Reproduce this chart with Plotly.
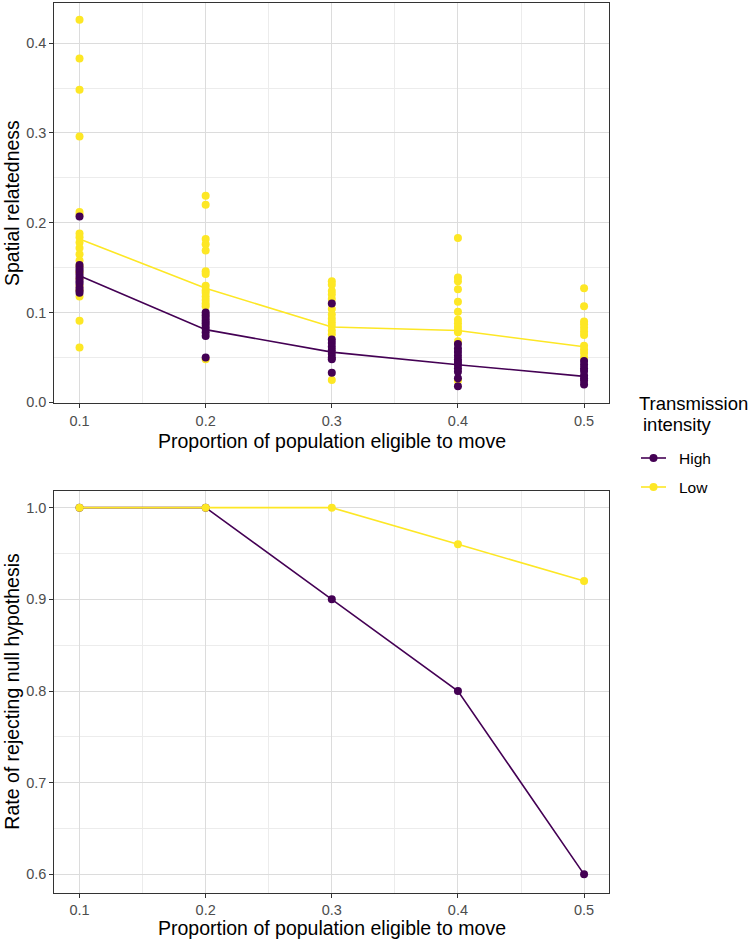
import plotly.graph_objects as go

# ---------------- data ----------------
props = [0.1, 0.2, 0.3, 0.4, 0.5]

# Spatial relatedness, individual simulations (Low transmission)
low_01 = [0.426, 0.383, 0.348, 0.296, 0.212, 0.209, 0.188, 0.184, 0.178, 0.172,
          0.165, 0.158, 0.152, 0.145, 0.138, 0.130, 0.125, 0.118, 0.091, 0.061]
low_02 = [0.230, 0.220, 0.182, 0.176, 0.169, 0.146, 0.143, 0.130, 0.125, 0.122,
          0.118, 0.114, 0.110, 0.107, 0.048]
low_03 = [0.135, 0.131, 0.124, 0.120, 0.115, 0.104, 0.098, 0.093, 0.089, 0.085,
          0.080, 0.076, 0.025]
low_04 = [0.183, 0.139, 0.135, 0.126, 0.112, 0.101, 0.092, 0.088, 0.084, 0.080,
          0.078, 0.068, 0.024]
low_05 = [0.127, 0.107, 0.090, 0.087, 0.083, 0.079, 0.075, 0.063, 0.059, 0.055,
          0.050]

# Spatial relatedness, individual simulations (High transmission)
high_01 = [0.207, 0.153, 0.150, 0.147, 0.144, 0.141, 0.138, 0.135, 0.132, 0.128,
           0.125, 0.122]
high_02 = [0.100, 0.097, 0.094, 0.091, 0.088, 0.085, 0.082, 0.078, 0.074, 0.050]
high_03 = [0.110, 0.070, 0.066, 0.062, 0.058, 0.054, 0.050, 0.048, 0.033]
high_04 = [0.065, 0.060, 0.056, 0.052, 0.048, 0.045, 0.042, 0.038, 0.034, 0.027,
           0.018]
high_05 = [0.046, 0.042, 0.038, 0.035, 0.030, 0.027, 0.024, 0.020]

# mean spatial relatedness
low_mean = [0.182, 0.127, 0.084, 0.080, 0.062]
high_mean = [0.141, 0.081, 0.056, 0.042, 0.029]

# rate of rejecting null hypothesis
high_reject = [1.0, 1.0, 0.9, 0.8, 0.6]
low_reject = [1.0, 1.0, 1.0, 0.96, 0.92]

x_ticks = [0.1, 0.2, 0.3, 0.4, 0.5]
y_ticks_top = [0.0, 0.1, 0.2, 0.3, 0.4]
y_ticks_bot = [0.6, 0.7, 0.8, 0.9, 1.0]

legend_labels = ["High", "Low"]
legend_title = ["Transmission", "intensity"]

HIGH_C = "#440154"
LOW_C = "#FDE725"
FONT = "Liberation Sans, Arial, sans-serif"

low_pts = [low_01, low_02, low_03, low_04, low_05]
high_pts = [high_01, high_02, high_03, high_04, high_05]


def flatten(groups):
    xs, ys = [], []
    for p, g in zip(props, groups):
        xs += [p] * len(g)
        ys += g
    return xs, ys


fig = go.Figure()

lx, ly = flatten(low_pts)
hx, hy = flatten(high_pts)

fig.add_trace(go.Scatter(x=lx, y=ly, mode="markers", marker=dict(color=LOW_C, size=8),
                         showlegend=False, xaxis="x", yaxis="y", hoverinfo="skip"))
fig.add_trace(go.Scatter(x=hx, y=hy, mode="markers", marker=dict(color=HIGH_C, size=8),
                         showlegend=False, xaxis="x", yaxis="y", hoverinfo="skip"))
fig.add_trace(go.Scatter(x=props, y=low_mean, mode="lines", line=dict(color=LOW_C, width=1.6),
                         showlegend=False, xaxis="x", yaxis="y"))
fig.add_trace(go.Scatter(x=props, y=high_mean, mode="lines", line=dict(color=HIGH_C, width=1.6),
                         showlegend=False, xaxis="x", yaxis="y"))

fig.add_trace(go.Scatter(x=props, y=high_reject, mode="lines+markers", name="High",
                         line=dict(color=HIGH_C, width=1.6), marker=dict(color=HIGH_C, size=8),
                         xaxis="x2", yaxis="y2", showlegend=False))
fig.add_trace(go.Scatter(x=props, y=low_reject, mode="lines+markers", name="Low",
                         line=dict(color=LOW_C, width=1.6), marker=dict(color=LOW_C, size=8),
                         xaxis="x2", yaxis="y2", showlegend=False))

W, H = 752, 941


def px(x):
    return x / W


def py(y):
    return (H - y) / H


MAJOR = "#DCDCDC"
MINOR = "#ECECEC"
TICKFONT = dict(family=FONT, size=14.5, color="#4D4D4D")
TITLEFONT = dict(family=FONT, size=19.5, color="black")


def axis(minor_vals, **kw):
    d = dict(
        showline=True, linecolor="#333333", linewidth=1, mirror=True,
        ticks="outside", ticklen=4, tickcolor="#333333", tickwidth=1,
        showgrid=True, gridcolor=MAJOR, gridwidth=1,
        zeroline=False, automargin=False, tickfont=TICKFONT,
        minor=dict(showgrid=True, gridcolor=MINOR, gridwidth=0.6, tickvals=minor_vals, ticks=""),
    )
    d.update(kw)
    return d


xdom = [px(54.3), px(609.3)]

fig.update_layout(
    width=W, height=H,
    margin=dict(l=0, r=0, t=0, b=0),
    paper_bgcolor="white", plot_bgcolor="white",
    font=dict(family=FONT, color="black"),
    showlegend=False,
    xaxis=axis([0.15, 0.25, 0.35, 0.45], domain=xdom, range=[0.08, 0.52], tickvals=x_ticks,
               ticktext=[f"{v:.1f}" for v in x_ticks], anchor="y"),
    yaxis=axis([0.05, 0.15, 0.25, 0.35], domain=[py(403.3), py(2.7)], range=[-0.001, 0.445],
               tickvals=y_ticks_top, ticktext=[f"{v:.1f}" for v in y_ticks_top], anchor="x"),
    xaxis2=axis([0.15, 0.25, 0.35, 0.45], domain=xdom, range=[0.08, 0.52], tickvals=x_ticks,
                ticktext=[f"{v:.1f}" for v in x_ticks], anchor="y2"),
    yaxis2=axis([0.65, 0.75, 0.85, 0.95], domain=[py(892.7), py(490.7)], range=[0.58, 1.0185],
                tickvals=y_ticks_bot, ticktext=[f"{v:.1f}" for v in y_ticks_bot], anchor="x2"),
)

annotations = [
    dict(text="Spatial relatedness", x=px(12), y=py(203), textangle=-90),
    dict(text="Proportion of population eligible to move", x=px(331.8), y=py(441)),
    dict(text="Rate of rejecting null hypothesis", x=px(12), y=py(691.7), textangle=-90),
    dict(text="Proportion of population eligible to move", x=px(331.8), y=py(928)),
]
for a in annotations:
    a.update(xref="paper", yref="paper", showarrow=False, font=TITLEFONT,
             xanchor="center", yanchor="middle", borderpad=0)

# legend (drawn manually)
annotations.append(dict(text=legend_title[0], x=px(638), y=py(404), xref="paper", yref="paper",
                        showarrow=False, xanchor="left", yanchor="middle", borderpad=0,
                        font=dict(family=FONT, size=18.5, color="black")))
annotations.append(dict(text=legend_title[1], x=px(642), y=py(424), xref="paper", yref="paper",
                        showarrow=False, xanchor="left", yanchor="middle", borderpad=0,
                        font=dict(family=FONT, size=18.5, color="black")))
shapes = []
for lab, col, yy in zip(legend_labels, [HIGH_C, LOW_C], [458, 487]):
    shapes.append(dict(type="line", xref="paper", yref="paper", x0=px(641), x1=px(666),
                       y0=py(yy), y1=py(yy), line=dict(color=col, width=1.6)))
    shapes.append(dict(type="circle", xref="paper", yref="paper", xsizemode="pixel",
                       ysizemode="pixel", xanchor=px(653.5), yanchor=py(yy), x0=-4, x1=4,
                       y0=-4, y1=4, fillcolor=col, line=dict(color=col, width=0)))
    annotations.append(dict(text=lab, x=px(677), y=py(yy), xref="paper", yref="paper",
                            showarrow=False, xanchor="left", yanchor="middle",
                            font=dict(family=FONT, size=15.5, color="black")))

fig.update_layout(annotations=annotations, shapes=shapes)

# remove the default 8px page margin so the figure sits at the window's top-left corner
fig.write_html("out.html",
               config={"displayModeBar": False},
               post_script="document.body.style.margin='0';document.body.style.overflow='hidden';")
